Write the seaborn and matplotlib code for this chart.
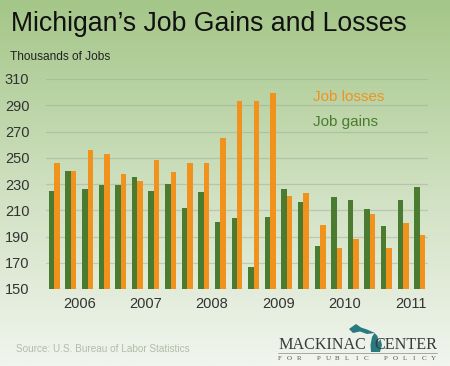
import numpy as np
import pandas as pd
import matplotlib
matplotlib.use("Agg")
import matplotlib.pyplot as plt
import seaborn as sns
from matplotlib.patches import Polygon

# ---- data (thousands of jobs, quarterly) ----
quarters = [f"{y}Q{q}" for y in range(2006, 2012) for q in range(1, 5)][:23]
job_gains = [225, 240, 226, 229, 229, 235, 225, 230, 212, 224, 201, 204,
             167, 205, 226, 216, 183, 220, 218, 211, 198, 218, 228]
job_losses = [246, 240, 256, 253, 238, 232, 248, 239, 246, 246, 265, 293,
              293, 299, 221, 223, 199, 181, 188, 207, 181, 200, 191]
year_labels = ["2006", "2007", "2008", "2009", "2010", "2011"]
y_ticks = [150, 170, 190, 210, 230, 250, 270, 290, 310]

df = pd.DataFrame({
    "quarter": quarters * 2,
    "jobs": job_gains + job_losses,
    "series": ["Job gains"] * len(quarters) + ["Job losses"] * len(quarters),
})

GREEN = "#4b7b31"
ORANGE = "#f1921c"

sns.set_theme(style="white")
plt.rcParams["font.family"] = ["Liberation Sans", "DejaVu Sans"]

W, H = 450, 366
fig = plt.figure(figsize=(W / 100, H / 100), dpi=100)

# background gradient
bg = fig.add_axes([0, 0, 1, 1], zorder=-10)
t = np.linspace(0, 1, 256)[:, None]
top = np.array([0xa4, 0xc6, 0x88]) / 255
mid = np.array([0xd2, 0xe2, 0xc4]) / 255
bot = np.array([0xf1, 0xf5, 0xee]) / 255
grad = np.where(t < 0.55, top + (mid - top) * (t / 0.55),
                mid + (bot - mid) * ((t - 0.55) / 0.45))
grad = grad[:, None, :] * np.ones((1, 4, 1))
bg.imshow(grad, aspect="auto", extent=[0, 1, 0, 1], origin="upper")
bg.set_axis_off()

def fx(x):
    return x / W

def fy(y):
    return 1 - y / H

ax = fig.add_axes([fx(46), fy(289), fx(428) - fx(46), fy(79) - fy(289)])
ax.set_facecolor("none")
sns.barplot(data=df, x="quarter", y="jobs", hue="series",
            hue_order=["Job gains", "Job losses"],
            palette={"Job gains": GREEN, "Job losses": ORANGE},
            width=0.66, gap=0, saturation=1, legend=False, ax=ax,
            linewidth=0, edgecolor="none", zorder=3)
ax.set_ylim(150, 310)
ax.set_yticks(y_ticks)
ax.set_yticklabels([str(v) for v in y_ticks], fontsize=10.5, color="#333333")
ax.set_xticks([1.5 + 4 * i for i in range(len(year_labels))])
ax.set_xticklabels(year_labels, fontsize=10.5, color="#333333")
ax.tick_params(axis="y", length=0, pad=12)
ax.tick_params(axis="x", length=0, pad=6)
ax.set_xlim(-0.5, len(quarters) - 0.5)
ax.grid(axis="y", color="#9aa592", alpha=0.45, linewidth=0.9, zorder=0)
ax.set_axisbelow(True)
for s in ax.spines.values():
    s.set_visible(False)
ax.set_xlabel("")
ax.set_ylabel("")

# legend as text
fig.text(fx(313), fy(97), "Job losses", color=ORANGE, fontsize=11, va="center")
fig.text(fx(313), fy(122), "Job gains", color=GREEN, fontsize=11, va="center")

# titles
fig.text(fx(11), fy(24), "Michigan\u2019s Job Gains and Losses", fontsize=19.2,
         color="#111111", va="center")
fig.text(fx(10), fy(57), "Thousands of Jobs", fontsize=8.6, color="#222222",
         va="center")
fig.text(fx(16), fy(349), "Source: U.S. Bureau of Labor Statistics",
         fontsize=7.2, color="#b3bcab", va="center")

# logo
fig.text(fx(278), fy(345), "MACKINAC", fontsize=11.6, color="#3a3a3a",
         family="Liberation Serif", va="center", ha="left")
fig.text(fx(437), fy(345), "CENTER", fontsize=11.6, color="#3a3a3a",
         family="Liberation Serif", va="center", ha="right")
fig.add_artist(plt.Line2D([fx(278), fx(437)], [fy(352.5), fy(352.5)],
                          color="#9a9a9a", linewidth=0.6,
                          transform=fig.transFigure))
for i, ch in enumerate("FOR PUBLIC POLICY"):
    if ch != " ":
        fig.text(fx(280 + i * 9.6), fy(358), ch, fontsize=5, color="#555555",
                 family="Liberation Serif", va="center", ha="center")
teal = "#287a80"
lp = [(371, 352), (380, 352), (382, 345), (380.5, 339), (378.5, 342),
      (377.5, 336), (374.5, 333), (372, 337), (370.5, 345)]
up = [(349, 329), (356, 324), (361, 327.5), (367, 329.5), (375, 333),
      (367, 334), (360, 331.5), (353, 333)]
for poly in (lp, up):
    fig.patches.append(Polygon([(fx(x), fy(y)) for x, y in poly], closed=True,
                               transform=fig.transFigure, facecolor=teal,
                               edgecolor="none"))

fig.savefig("out.png", dpi=100)
